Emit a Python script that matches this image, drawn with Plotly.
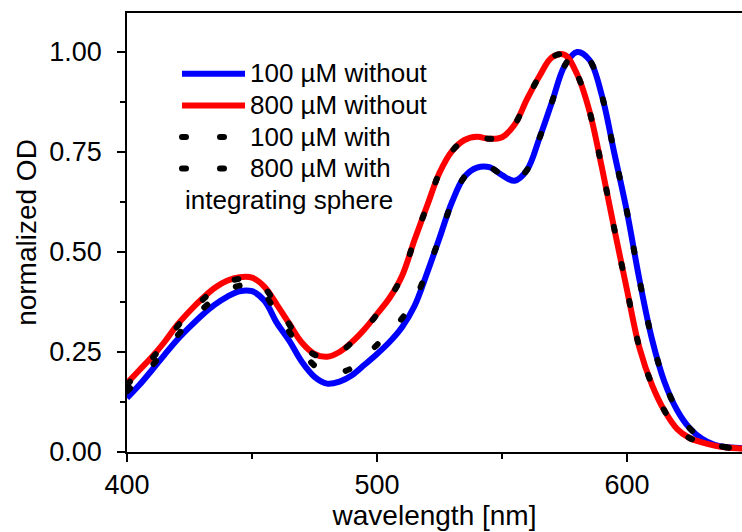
import plotly.graph_objects as go

wavelength = list(range(400, 655, 5))

od_100_without = [
    0.135, 0.168, 0.205, 0.243, 0.280, 0.312, 0.342, 0.368, 0.388, 0.402,
    0.402, 0.378, 0.322, 0.277, 0.225, 0.188, 0.171, 0.176, 0.192, 0.218,
    0.245, 0.275, 0.312, 0.365, 0.447, 0.535, 0.625, 0.688, 0.711, 0.712,
    0.692, 0.678, 0.705, 0.785, 0.875, 0.965, 1.000, 0.980, 0.890, 0.745,
    0.600, 0.430, 0.282, 0.175, 0.105, 0.060, 0.033, 0.018, 0.012, 0.010,
    0.008,
]

od_800_without = [
    0.172, 0.205, 0.238, 0.275, 0.317, 0.352, 0.383, 0.410, 0.428, 0.437,
    0.436, 0.413, 0.368, 0.320, 0.273, 0.245, 0.238, 0.250, 0.275, 0.307,
    0.345, 0.385, 0.440, 0.530, 0.615, 0.698, 0.752, 0.780, 0.788, 0.783,
    0.787, 0.818, 0.882, 0.940, 0.987, 0.993, 0.945, 0.852, 0.710, 0.555,
    0.405, 0.260, 0.168, 0.103, 0.058, 0.035, 0.024, 0.016, 0.011, 0.009,
    0.008,
]

od_100_with = [
    0.152, 0.182, 0.216, 0.253, 0.290, 0.325, 0.356, 0.383, 0.403, 0.416,
    0.415, 0.394, 0.345, 0.300, 0.253, 0.216, 0.199, 0.199, 0.210, 0.237,
    0.268, 0.298, 0.334, 0.380, 0.452, 0.535, 0.625, 0.688, 0.711, 0.712,
    0.692, 0.678, 0.705, 0.785, 0.875, 0.965, 1.000, 0.980, 0.890, 0.745,
    0.600, 0.430, 0.282, 0.175, 0.105, 0.060, 0.033, 0.018, 0.012, 0.010,
    0.008,
]

od_800_with = [
    0.168, 0.201, 0.234, 0.271, 0.313, 0.348, 0.379, 0.406, 0.424, 0.433,
    0.432, 0.410, 0.366, 0.318, 0.271, 0.243, 0.237, 0.249, 0.274, 0.306,
    0.344, 0.384, 0.440, 0.530, 0.615, 0.698, 0.752, 0.780, 0.788, 0.783,
    0.787, 0.818, 0.882, 0.940, 0.987, 0.993, 0.945, 0.852, 0.710, 0.555,
    0.405, 0.260, 0.168, 0.103, 0.058, 0.035, 0.024, 0.016, 0.011, 0.009,
    0.008,
]

series_names = ["100 µM without", "800 µM without", "100 µM with", "800 µM with"]
x_ticks = [400, 500, 600]
y_ticks = [0.0, 0.25, 0.5, 0.75, 1.0]

FONT = "Liberation Sans, Arial, sans-serif"
DOT = "4px,34px"


def legend_label(s):
    return '<span style="font-size:26px">' + s + '</span>'


fig = go.Figure()
fig.add_trace(go.Scatter(x=wavelength, y=od_100_without, name=legend_label(series_names[0]), mode="lines",
                         line=dict(color="#0000ff", width=6, shape="spline")))
fig.add_trace(go.Scatter(x=wavelength, y=od_800_without, name=legend_label(series_names[1]), mode="lines",
                         line=dict(color="#ff0000", width=6, shape="spline")))
fig.add_trace(go.Scatter(x=wavelength, y=od_100_with, name=legend_label(series_names[2]), mode="lines",
                         line=dict(color="#000000", width=6, shape="spline", dash=DOT)))
fig.add_trace(go.Scatter(x=wavelength, y=od_800_with, name=legend_label(series_names[3]), mode="lines",
                         line=dict(color="#000000", width=6, shape="spline", dash=DOT)))

fig.add_annotation(text="integrating sphere", xref="paper", yref="paper",
                   x=(183 - 127) / 615, y=(452 - 200) / 439, xanchor="left", yanchor="middle",
                   showarrow=False, font=dict(family=FONT, size=26, color="black"))

fig.update_layout(
    width=742, height=532,
    margin=dict(l=127, r=0, t=13, b=80),
    paper_bgcolor="white", plot_bgcolor="white",
    font=dict(family=FONT, color="black"),
    showlegend=True,
    legend=dict(x=(177 - 127) / 615, y=(452 - 53) / 439, xanchor="left", yanchor="top",
                font=dict(family=FONT, size=22, color="black"),
                bgcolor="rgba(0,0,0,0)", itemwidth=63, tracegroupgap=0),
)
fig.update_xaxes(
    range=[400, 646], tickvals=x_ticks, ticks="outside", ticklen=8, tickwidth=1.5,
    tickcolor="black", showline=True, linecolor="black", linewidth=1.5, mirror=True,
    showgrid=False, zeroline=False, tickfont=dict(family=FONT, size=27, color="black"),
    minor=dict(dtick=50, tick0=400, ticks="outside", ticklen=5, tickwidth=1.5, tickcolor="black", showgrid=False),
    title=dict(text="wavelength [nm]", font=dict(family=FONT, size=28, color="black"), standoff=6),
)
fig.update_yaxes(
    range=[0, 1.0975], tickvals=y_ticks, tickformat=".2f", ticks="outside", ticklen=8, tickwidth=1.5,
    tickcolor="black", showline=True, linecolor="black", linewidth=1.5, mirror=False,
    showgrid=False, zeroline=False, tickfont=dict(family=FONT, size=27, color="black"),
    ticklabelstandoff=10,
    minor=dict(dtick=0.125, tick0=0, ticks="outside", ticklen=5, tickwidth=1.5, tickcolor="black", showgrid=False),
    title=dict(text="normalized OD", font=dict(family=FONT, size=28, color="black"), standoff=4),
)

post = """
var gd = document.getElementById('{plot_id}');
function roundDots(){
  var tr = gd.querySelectorAll('.scatterlayer .trace');
  [2,3].forEach(function(i){ if(tr[i]) tr[i].querySelectorAll('path').forEach(function(p){ p.style.strokeLinecap='round'; }); });
  var lt = gd.querySelectorAll('.legend .traces');
  [2,3].forEach(function(i){ if(lt[i]) lt[i].querySelectorAll('.legendlines path').forEach(function(p){ p.style.strokeLinecap='round'; }); });
}
roundDots();
gd.on('plotly_afterplot', roundDots);
"""

fig.write_html("out.html", post_script=post)
